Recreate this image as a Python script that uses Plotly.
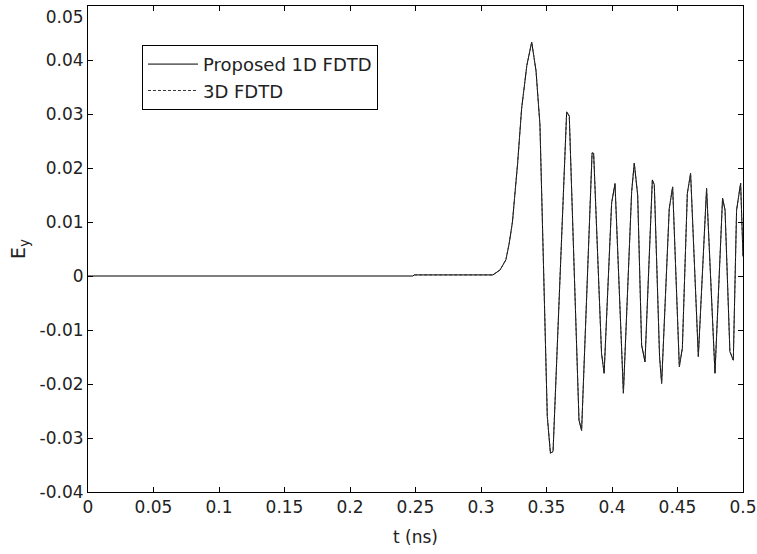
import plotly.graph_objects as go

# Proposed 1D FDTD
t_1d = [0, 0.248, 0.249, 0.309, 0.3145, 0.319, 0.3215, 0.324, 0.328, 0.331, 0.335,
        0.3387, 0.342, 0.345, 0.3506, 0.353, 0.355, 0.3654, 0.3674, 0.3748, 0.3768,
        0.3848, 0.386, 0.392, 0.394, 0.3997, 0.4023, 0.4087, 0.415, 0.417, 0.4196,
        0.4226, 0.4252, 0.429, 0.4308, 0.4323, 0.4363, 0.4379, 0.4437, 0.4463, 0.4514,
        0.4537, 0.4575, 0.46, 0.4659, 0.4722, 0.4786, 0.4844, 0.4863, 0.49, 0.4926,
        0.4951, 0.4982, 0.5]
e_1d = [0, 0, 0.0002, 0.0002, 0.0011, 0.003, 0.006, 0.010, 0.021, 0.031, 0.039,
        0.0433, 0.038, 0.028, -0.026, -0.0328, -0.0325, 0.0304, 0.0296, -0.0267, -0.0286,
        0.0228, 0.0227, -0.0143, -0.018, 0.0135, 0.0171, -0.0217, 0.0156, 0.0209, 0.015,
        -0.0128, -0.0159, 0.0085, 0.0178, 0.0169, -0.0149, -0.0199, 0.0125, 0.0165, -0.0168,
        -0.0134, 0.0153, 0.019, -0.0149, 0.0162, -0.018, 0.0144, 0.0122, -0.014, -0.0156,
        0.0122, 0.0172, 0.0036]

# 3D FDTD (overlaps the 1D result, visible from ~0.25 ns)
t_3d = t_1d[2:]
e_3d = e_1d[2:]

x_ticks = [0, 0.05, 0.1, 0.15, 0.2, 0.25, 0.3, 0.35, 0.4, 0.45, 0.5]
x_labels = ["0", "0.05", "0.1", "0.15", "0.2", "0.25", "0.3", "0.35", "0.4", "0.45", "0.5"]
y_ticks = [-0.04, -0.03, -0.02, -0.01, 0, 0.01, 0.02, 0.03, 0.04, 0.05]
y_labels = ["-0.04", "-0.03", "-0.02", "-0.01", "0", "0.01", "0.02", "0.03", "0.04", "<br>0.05"]

fig = go.Figure()
fig.add_trace(go.Scatter(x=t_1d, y=e_1d, mode="lines", name="Proposed 1D FDTD",
                         line=dict(color="black", width=1)))
fig.add_trace(go.Scatter(x=t_3d, y=e_3d, mode="lines", name="3D FDTD",
                         line=dict(color="#333333", width=1, dash="3px,2px")))

font = "DejaVu Sans, Liberation Sans, Arial, sans-serif"
axis_common = dict(showgrid=False, zeroline=False, showline=True, linecolor="black",
                   linewidth=1, mirror="ticks", ticks="inside", ticklen=5,
                   tickcolor="black", automargin=False, ticklabeloverflow="allow",
                   tickfont=dict(size=17, color="#222", family=font))

fig.update_layout(
    width=757, height=554,
    margin=dict(l=88, r=14, t=6, b=62),
    plot_bgcolor="white", paper_bgcolor="white",
    font=dict(family=font, color="#222"),
    xaxis=dict(range=[0, 0.5], tickvals=x_ticks, ticktext=x_labels,
               title=dict(text="t (ns)", font=dict(size=17), standoff=14), **axis_common),
    yaxis=dict(range=[-0.04, 0.05], tickvals=y_ticks, ticktext=y_labels,
               title=dict(text="E<sub>y</sub>", font=dict(size=19), standoff=8), **axis_common),
    legend=dict(x=0.0824, y=0.92, xanchor="left", yanchor="top",
                bordercolor="black", borderwidth=1, bgcolor="white",
                font=dict(size=18, family=font, color="#222"),
                tracegroupgap=0, itemwidth=50),
    showlegend=True,
)

fig.write_html("out.html")
